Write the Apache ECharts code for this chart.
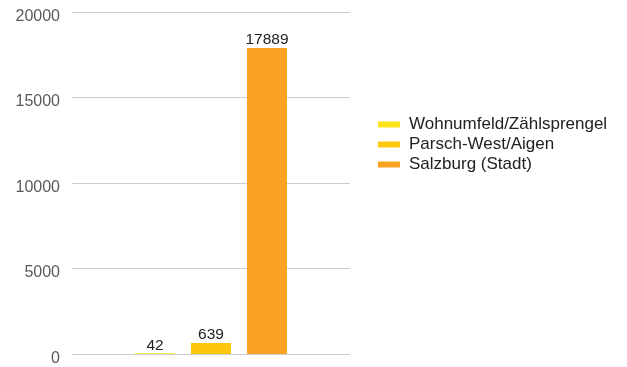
<!DOCTYPE html>
<html>
<head>
<meta charset="utf-8">
<script src="https://cdn.jsdelivr.net/npm/echarts@6/dist/echarts.min.js"></script>
<style>
  html, body { margin: 0; padding: 0; background: #ffffff; }
  #chart { width: 627px; height: 367px; }
</style>
</head>
<body>
<div id="chart"></div>
<script>
// Einwohnerzahlen: Wohnumfeld, Stadtteil und Stadt
const categories = [''];
const seriesNames = ['Wohnumfeld/Zählsprengel', 'Parsch-West/Aigen', 'Salzburg (Stadt)'];
const seriesValues = [[42], [639], [17889]];
const seriesColors = ['#fde11a', '#fdc80c', '#fca223'];
const yTicks = [0, 5000, 10000, 15000, 20000];

const chart = echarts.init(document.getElementById('chart'), null, { renderer: 'canvas' });

const font = 'Liberation Sans, Arial, Helvetica, sans-serif';

const series = seriesNames.map((name, i) => ({
  name: name,
  type: 'bar',
  data: seriesValues[i],
  barWidth: 40,
  barGap: '40%',
  itemStyle: { color: seriesColors[i] },
  label: {
    show: true,
    position: 'top',
    distance: 0,
    color: '#222222',
    fontSize: 15.5,
    fontFamily: font
  }
}));

chart.setOption({
  animation: false,
  grid: { left: 72, right: 277, top: 12, bottom: 13, containLabel: false },
  legend: {
    orient: 'vertical',
    left: 373,
    top: 111,
    itemWidth: 22,
    itemHeight: 6,
    itemGap: 3,
    icon: 'rect',
    textStyle: { color: '#222222', fontSize: 17, fontFamily: font, padding: [0, 0, 0, 4] },
    data: seriesNames
  },
  xAxis: {
    type: 'category',
    data: categories,
    axisLine: { show: false },
    axisTick: { show: false },
    axisLabel: { show: false }
  },
  yAxis: {
    type: 'value',
    min: yTicks[0],
    max: yTicks[yTicks.length - 1],
    interval: yTicks[1] - yTicks[0],
    axisLine: { show: false },
    axisTick: { show: false },
    axisLabel: {
      color: '#5a5a5a',
      fontSize: 16,
      fontFamily: font,
      margin: 12,
      verticalAlign: 'top',
      lineHeight: 9,
      formatter: v => String(v)
    },
    splitLine: { lineStyle: { color: '#cccccc', width: 1 } }
  },
  series: series
});
</script>
</body>
</html>
